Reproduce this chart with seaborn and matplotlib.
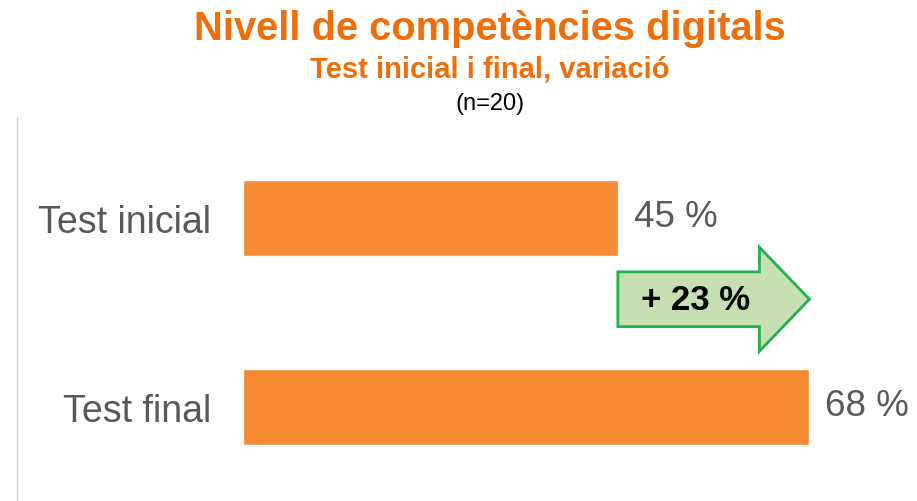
import matplotlib
matplotlib.use("Agg")
import matplotlib.pyplot as plt
from matplotlib.patches import FancyArrow
from matplotlib.lines import Line2D
import seaborn as sns

# Data
categories = ["Test inicial", "Test final"]
values = [45, 68]
title = "Nivell de competències digitals"
subtitle = "Test inicial i final, variació"
sample_note = "(n=20)"

bar_color = "#F78B33"
title_color = "#F06E0A"
label_color = "#595959"

sns.set_theme(style="white")
plt.rcParams['font.family'] = ['Liberation Sans', 'DejaVu Sans']

fig = plt.figure(figsize=(9.17, 5.02), dpi=100)
ax = fig.add_axes([243 / 917, 0, 666.4 / 917, 384 / 502])

sns.barplot(x=values, y=categories, orient="h", color=bar_color,
            saturation=1, width=0.4, ax=ax)

ax.set_xlim(0, 80)
ax.set_ylim(1.497, -0.534)
for s in ax.spines.values():
    s.set_visible(False)
ax.set_xticks([])
ax.set_xlabel("")
ax.set_ylabel("")
ax.tick_params(axis="y", length=0, pad=23, labelsize=27, labelcolor=label_color)

# value labels
for i, v in enumerate(values):
    ax.text(v + 1.9, i - 0.01, f"{v} %", va="center", ha="left",
            fontsize=26.5, color=label_color)

# variation arrow between the two bars
delta = values[1] - values[0]
head_len = 6.0
arrow_y = 0.43
arrow = FancyArrow(values[0], arrow_y, delta, 0, width=0.29, head_width=0.55,
                   head_length=head_len, length_includes_head=True,
                   facecolor="#C6E0B4", edgecolor="#22B14C", linewidth=2,
                   clip_on=False)
ax.add_patch(arrow)
ax.text(values[0] + (delta - head_len) / 2 + 0.8, arrow_y, f"+ {delta} %",
        ha="center", va="center", fontsize=25, fontweight="bold", color="black")

# thin grey line on the left
fig.add_artist(Line2D([17 / 917, 17 / 917], [0, 384 / 502],
                      color="#D0D0D0", linewidth=1))

# titles
cx = 490 / 917
fig.text(cx, 1 - 40 / 502, title, ha="center", va="baseline",
         fontsize=28.7, fontweight="bold", color=title_color)
fig.text(cx, 1 - 77 / 502, subtitle, ha="center", va="baseline",
         fontsize=21, fontweight="bold", color=title_color)
fig.text(cx, 1 - 110 / 502, sample_note, ha="center", va="baseline",
         fontsize=17, color="black")

fig.savefig("out.png", dpi=100)
